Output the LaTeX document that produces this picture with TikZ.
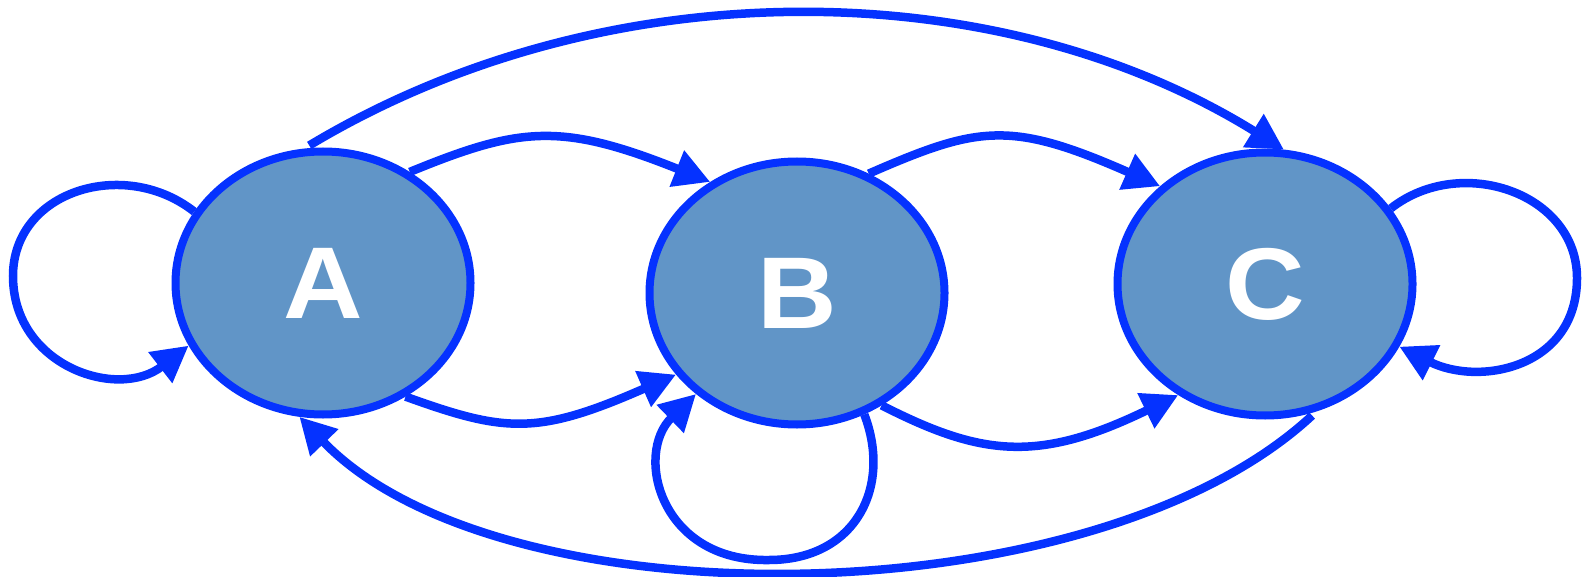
\documentclass[tikz,border=0pt]{standalone}
\usepackage{fontspec}
\usepackage{graphicx}
\setmainfont{Liberation Sans}
\usetikzlibrary{arrows.meta,shapes.geometric}
\definecolor{eblue}{RGB}{5,50,255}
\definecolor{nfill}{RGB}{97,149,199}
\newcommand{\wideletter}[1]{\scalebox{1.08}[1]{#1}}
\begin{document}
\begin{tikzpicture}[x=1pt,y=-1pt,
  state/.style={ellipse,draw=eblue,line width=8pt,fill=nfill,minimum width=295pt,minimum height=263pt,inner sep=0pt,text=white,font=\fontsize{102}{110}\selectfont\bfseries},
  edge/.style={draw=eblue,line width=8.5pt,-{Triangle[length=36pt,width=37pt]}}]
\useasboundingbox (0,0) rectangle (1586,577);
\node[state] (A) at (323,283) {\wideletter{A}};
\node[state] (B) at (797,293) {\wideletter{B}};
\node[state] (C) at (1265,284) {\wideletter{C}};
\coordinate (aL) at (13,276);
\coordinate (cR) at (1577,278);
\coordinate (bB) at (769,560);
% self loops
\draw[edge] (A.151) .. controls +(-70,-55) and +(0,-85) .. (aL)
                    .. controls +(0,90) and +(-71,55) .. (A.205);
\draw[edge] (C.31.5) .. controls +(70,-55) and +(0,-85) .. (cR)
                     .. controls +(0,90) and +(80,40) .. (C.335.5);
\draw[edge] (B.299) .. controls +(28,73) and +(86,0) .. (bB)
                    .. controls +(-109,2) and +(-62,60) .. (B.225);
% A to B
\draw[edge] (A.52) .. controls +(110,-45) and +(-150,-60) .. (B.128);
\draw[edge] (A.306) .. controls +(100,36) and +(-139,61) .. (B.214);
% B to C
\draw[edge] (B.59) .. controls +(110,-48) and +(-150,-66) .. (C.137);
\draw[edge] (B.307) .. controls +(100,51) and +(-140,68) .. (C.232);
% long arcs
\draw[edge,shorten <=6pt] (A.98) .. controls +(303,-182) and +(-285,-177) .. (C.82);
\draw[edge,shorten <=6pt] (C.292) .. controls +(-222,207) and +(201,209) .. (A.260);
\end{tikzpicture}
\end{document}
